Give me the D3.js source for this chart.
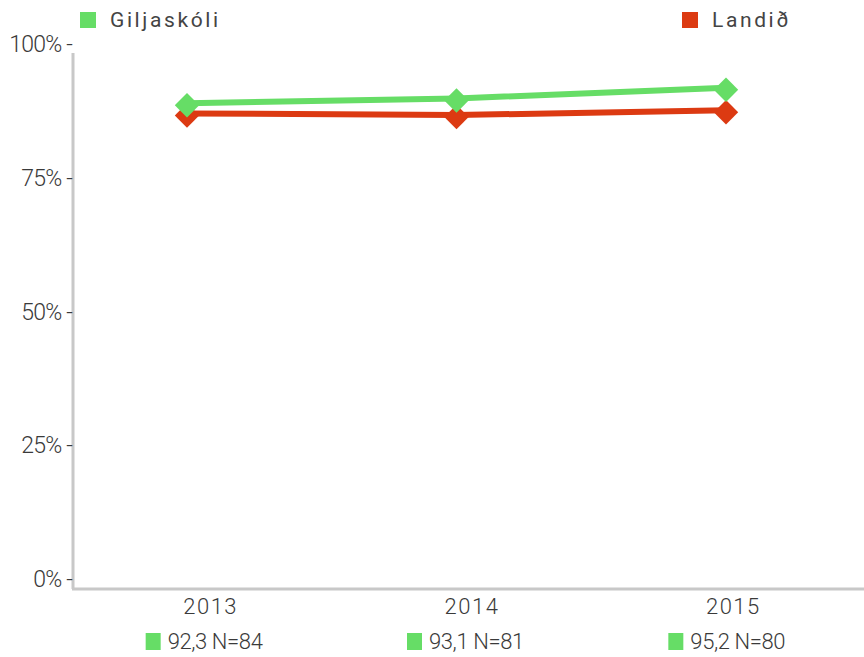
<!DOCTYPE html>
<html>
<head>
<meta charset="utf-8">
<script src="https://cdn.jsdelivr.net/npm/d3@7"></script>
<style>
  body { margin: 0; background: #fff; }
  svg { display: block; }
  text { fill: #3a3a3a; }
</style>
</head>
<body>
<svg id="chart" width="864" height="657"></svg>
<script>
const years = ["2013", "2014", "2015"];
const seriesNames = ["Giljaskóli", "Landið"];
const giljaskoli = [90.6, 91.5, 93.5];
const landid = [88.7, 88.4, 89.3];
const bottomLabels = ["92,3 N=84", "93,1 N=81", "95,2 N=80"];
const yTicks = [0, 25, 50, 75, 100];
const yTickLabels = ["0%", "25%", "50%", "75%", "100%"];
const colors = ["#66dd66", "#dc3a12"];

const svg = d3.select("#chart");
const font = "Roboto, 'Noto Sans', sans-serif";

const y = d3.scaleLinear().domain([0, 100]).range([588, 53]);
const xPts = d3.scalePoint().domain(years).range([187, 726]);
const xLab = d3.scaleBand().domain(years).range([80, 864]);

// axes lines
svg.append("line").attr("x1", 73).attr("x2", 73).attr("y1", 53).attr("y2", 589)
  .attr("stroke", "#c8c8c8").attr("stroke-width", 3);
svg.append("line").attr("x1", 72).attr("x2", 864).attr("y1", 589).attr("y2", 589)
  .attr("stroke", "#c8c8c8").attr("stroke-width", 3);

// y tick labels
svg.append("g").selectAll("text").data(yTicks).join("text")
  .attr("x", 72).attr("y", d => y(d) - 9)
  .attr("dy", "0.35em")
  .attr("text-anchor", "end")
  .attr("font-family", font).attr("font-size", 23).attr("font-weight", 300)
  .attr("letter-spacing", -0.8)
  .text((d, i) => yTickLabels[i] + " -");

// x labels
svg.append("g").selectAll("text").data(years).join("text")
  .attr("x", d => xLab(d) + xLab.bandwidth() / 2).attr("y", 606)
  .attr("dy", "0.35em").attr("text-anchor", "middle")
  .attr("font-family", font).attr("font-size", 22).attr("font-weight", 300)
  .attr("letter-spacing", 1.5)
  .text(d => d);

// bottom labels
const bl = svg.append("g").selectAll("g").data(years).join("g")
  .attr("transform", d => `translate(${xLab(d) + xLab.bandwidth() / 2},641)`);
bl.append("rect").attr("x", -65).attr("y", -8).attr("width", 15).attr("height", 17)
  .attr("fill", colors[0]);
bl.append("text").attr("x", -43).attr("dy", "0.35em")
  .attr("font-family", font).attr("font-size", 22).attr("font-weight", 300)
  .attr("letter-spacing", -0.4)
  .text((d, i) => bottomLabels[i]);

// lines
const line = d3.line().x((d, i) => xPts(years[i])).y(d => y(d));
const series = [giljaskoli, landid];
[1, 0].forEach(si => {
  svg.append("path").datum(series[si])
    .attr("d", line).attr("fill", "none")
    .attr("stroke", colors[si]).attr("stroke-width", 6);
});
const diamond = d3.symbol().type(d3.symbolDiamond2).size(380);
[1, 0].forEach(si => {
  svg.append("g").selectAll("path").data(series[si]).join("path")
    .attr("transform", (d, i) => `translate(${xPts(years[i])},${y(d) + 2})`)
    .attr("d", diamond).attr("fill", colors[si]);
});

// legend
const legX = [80, 682];
const leg = svg.append("g").selectAll("g").data(seriesNames).join("g")
  .attr("transform", (d, i) => `translate(${legX[i]},20)`);
leg.append("rect").attr("x", 0).attr("y", -8).attr("width", 16).attr("height", 16)
  .attr("fill", (d, i) => colors[i]);
leg.append("text").attr("x", 30).attr("dy", "0.35em")
  .attr("font-family", "Roboto, 'Open Sans', sans-serif").attr("font-size", 21)
  .attr("font-weight", 400).style("fill", "#444")
  .attr("letter-spacing", 2.6)
  .text(d => d);
</script>
</body>
</html>
